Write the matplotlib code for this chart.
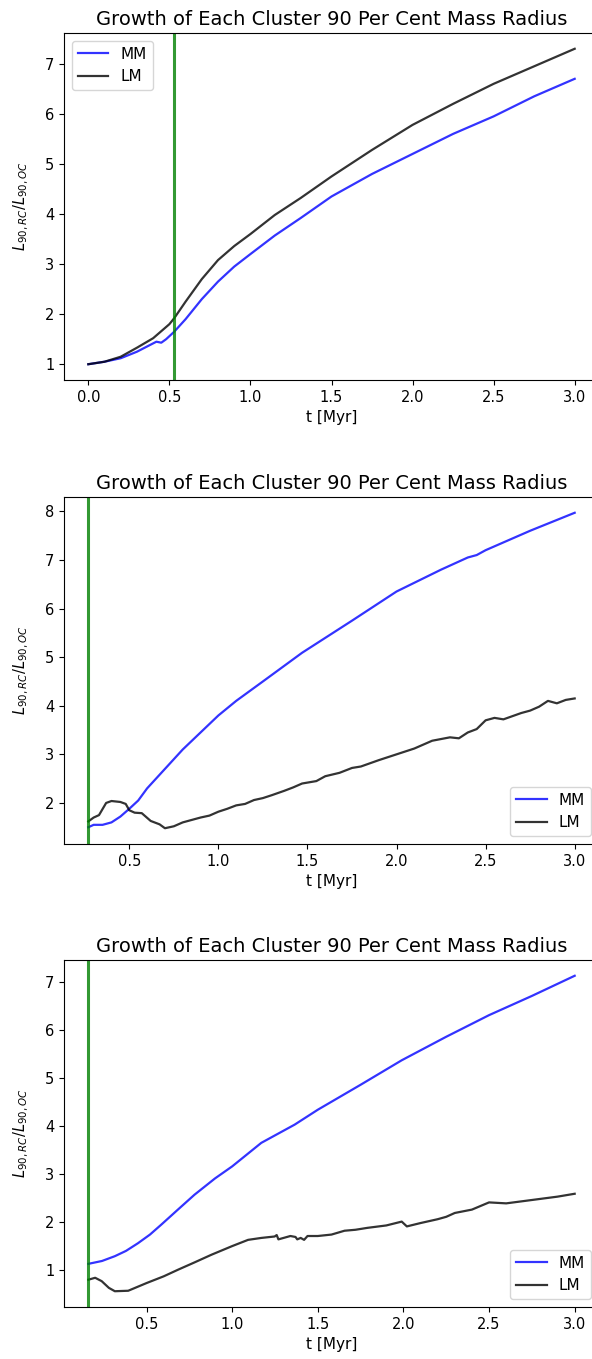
import matplotlib
matplotlib.use("Agg")
import matplotlib.pyplot as plt

# ── Data ───────────────────────────────────────────────────────────────────────
# panel 1
t1_mm = [0.0, 0.1, 0.2, 0.3, 0.36, 0.42, 0.45, 0.48, 0.53, 0.6, 0.7, 0.8, 0.9,
         1.0, 1.15, 1.31, 1.5, 1.75, 2.0, 2.25, 2.5, 2.75, 3.0]
y1_mm = [1.0, 1.05, 1.12, 1.25, 1.35, 1.45, 1.43, 1.5, 1.65, 1.9, 2.3, 2.65,
         2.95, 3.2, 3.57, 3.92, 4.35, 4.8, 5.2, 5.6, 5.95, 6.35, 6.7]
t1_lm = [0.0, 0.1, 0.2, 0.3, 0.4, 0.5, 0.53, 0.6, 0.7, 0.8, 0.9, 1.0, 1.15,
         1.31, 1.5, 1.75, 2.0, 2.25, 2.5, 2.75, 3.0]
y1_lm = [1.0, 1.05, 1.15, 1.33, 1.52, 1.8, 1.92, 2.25, 2.7, 3.08, 3.36, 3.6,
         3.98, 4.32, 4.75, 5.28, 5.78, 6.2, 6.6, 6.95, 7.3]
vline1 = 0.53

# panel 2
t2_mm = [0.27, 0.3, 0.35, 0.4, 0.45, 0.5, 0.55, 0.6, 0.7, 0.8, 0.9, 1.0, 1.1,
         1.25, 1.47, 1.75, 2.0, 2.25, 2.4, 2.45, 2.5, 2.75, 3.0]
y2_mm = [1.5, 1.55, 1.55, 1.6, 1.72, 1.88, 2.05, 2.3, 2.7, 3.1, 3.45, 3.8,
         4.1, 4.5, 5.09, 5.75, 6.35, 6.8, 7.05, 7.1, 7.2, 7.6, 7.97]
t2_lm = [0.27, 0.3, 0.33, 0.37, 0.4, 0.45, 0.48, 0.5, 0.53, 0.57, 0.62, 0.67,
         0.7, 0.75, 0.8, 0.85, 0.9, 0.95, 1.0, 1.05, 1.1, 1.15, 1.2, 1.25, 1.3,
         1.37, 1.42, 1.47, 1.55, 1.6, 1.68, 1.75, 1.8, 1.9, 2.0, 2.1, 2.15, 2.2,
         2.3, 2.35, 2.4, 2.45, 2.5, 2.55, 2.6, 2.7, 2.75, 2.8, 2.85, 2.9, 2.95,
         3.0]
y2_lm = [1.62, 1.7, 1.75, 2.0, 2.04, 2.02, 1.98, 1.85, 1.8, 1.79, 1.63, 1.56,
         1.48, 1.52, 1.6, 1.65, 1.7, 1.74, 1.82, 1.88, 1.95, 1.98, 2.06, 2.1,
         2.16, 2.25, 2.32, 2.4, 2.45, 2.55, 2.62, 2.72, 2.75, 2.88, 3.0, 3.12,
         3.2, 3.28, 3.35, 3.33, 3.45, 3.52, 3.7, 3.75, 3.72, 3.85, 3.9, 3.98,
         4.1, 4.05, 4.12, 4.15]
vline2 = 0.27

# panel 3
t3_mm = [0.16, 0.24, 0.315, 0.38, 0.45, 0.52, 0.587, 0.68, 0.78, 0.9, 1.0,
         1.17, 1.365, 1.5, 1.75, 1.99, 2.25, 2.5, 2.75, 3.0]
y3_mm = [1.12, 1.18, 1.28, 1.39, 1.55, 1.73, 1.94, 2.24, 2.56, 2.9, 3.15,
         3.64, 4.02, 4.33, 4.85, 5.36, 5.85, 6.3, 6.7, 7.12]
t3_lm = [0.16, 0.2, 0.238, 0.28, 0.315, 0.393, 0.5, 0.6, 0.685, 0.78, 0.879,
         1.0, 1.093, 1.17, 1.248, 1.26, 1.27, 1.3, 1.34, 1.37, 1.38, 1.4, 1.42,
         1.44, 1.5, 1.58, 1.656, 1.72, 1.79, 1.9, 1.99, 2.02, 2.1, 2.2, 2.25,
         2.3, 2.4, 2.5, 2.6, 2.75, 2.9, 3.0]
y3_lm = [0.79, 0.83, 0.76, 0.62, 0.55, 0.56, 0.72, 0.86, 1.0, 1.15, 1.31, 1.49,
         1.62, 1.66, 1.69, 1.72, 1.63, 1.66, 1.7, 1.68, 1.63, 1.66, 1.62, 1.7,
         1.7, 1.73, 1.81, 1.83, 1.87, 1.92, 2.0, 1.9, 1.97, 2.05, 2.1, 2.18,
         2.25, 2.4, 2.38, 2.45, 2.52, 2.58]
vline3 = 0.16

panels = [
    (t1_mm, y1_mm, t1_lm, y1_lm, vline1, "upper left"),
    (t2_mm, y2_mm, t2_lm, y2_lm, vline2, "lower right"),
    (t3_mm, y3_mm, t3_lm, y3_lm, vline3, "lower right"),
]

# ── Figure ─────────────────────────────────────────────────────────────────────
plt.rcParams["font.size"] = 10.5
W, H = 592, 1359
fig = plt.figure(figsize=(W / 100, H / 100), dpi=100)

# axes boxes in pixels: (top, bottom); right spine runs past the image edge
boxes = [(33, 380), (497, 844), (960, 1307)]
left_px, right_px = 64, 599

for (tm, ym, tl, yl, vx, loc), (top, bot) in zip(panels, boxes):
    ax = fig.add_axes([left_px / W, (H - bot) / H,
                       (right_px - left_px) / W, (bot - top) / H])
    ax.plot(tm, ym, color="blue", alpha=0.8, lw=1.6, label="MM")
    ax.plot(tl, yl, color="black", alpha=0.8, lw=1.6, label="LM")
    ax.axvline(vx, color="green", alpha=0.8, lw=2.2)
    ax.set_title("Growth of Each Cluster 90 Per Cent Mass Radius", fontsize=14)
    ax.set_xlabel("t [Myr]", fontsize=11)
    ax.set_ylabel(r"$L_{90,RC}/L_{90,OC}$", fontsize=10.5, labelpad=10)
    ax.legend(loc=loc, fontsize=11)

fig.savefig("out.png", dpi=100)
